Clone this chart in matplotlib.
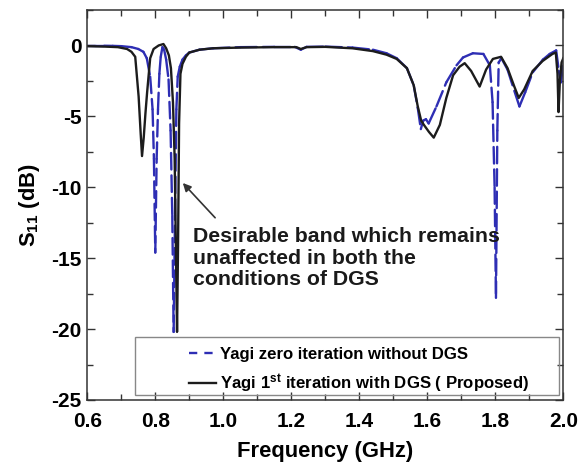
import numpy as np
import matplotlib
matplotlib.use("Agg")
import matplotlib.pyplot as plt
from matplotlib.patches import Rectangle
from matplotlib.collections import LineCollection
from matplotlib.lines import Line2D
from matplotlib.ticker import MultipleLocator

# Yagi zero iteration without DGS (blue dashed)
freq_zero = [0.60, 0.625, 0.65, 0.675, 0.70, 0.73, 0.75, 0.765, 0.775, 0.785, 0.792, 0.796,
             0.800, 0.804, 0.808, 0.812, 0.816, 0.821, 0.826, 0.832, 0.839, 0.845,
             0.850, 0.854, 0.858, 0.862, 0.866, 0.872, 0.880, 0.890, 0.900, 0.930,
             0.970, 1.050, 1.150, 1.210, 1.228, 1.245, 1.300, 1.380, 1.440, 1.480,
             1.510, 1.540, 1.560, 1.572, 1.581, 1.588, 1.596, 1.604, 1.627, 1.656,
             1.686, 1.705, 1.734, 1.765, 1.784, 1.792, 1.798, 1.802, 1.806, 1.810,
             1.818, 1.836, 1.856, 1.871, 1.888, 1.910, 1.940, 1.960, 1.979, 1.987,
             1.993, 2.000]
s11_zero = [-0.02, -0.02, -0.02, -0.03, -0.05, -0.12, -0.25, -0.45, -0.9, -2.2, -4.5, -8.0,
            -14.6, -8.0, -4.5, -2.0, -0.8, -0.12, -0.3, -1.0, -2.4, -6.0,
            -12.0, -20.2, -12.0, -4.5, -2.2, -1.5, -1.0, -0.7, -0.5, -0.3,
            -0.2, -0.12, -0.1, -0.1, -0.3, -0.1, -0.08, -0.15, -0.3, -0.55,
            -0.9, -1.6, -2.8, -4.4, -5.9, -5.3, -5.2, -5.5, -4.3, -2.6,
            -1.4, -0.85, -0.55, -0.6, -1.4, -4.0, -10.0, -17.8, -6.0, -1.2,
            -0.9, -1.7, -3.2, -4.3, -3.3, -1.9, -1.0, -0.6, -0.35, -1.8,
            -2.6, -1.3]

# Yagi 1st iteration with DGS (black solid)
freq_dgs = [0.60, 0.65, 0.69, 0.717, 0.730, 0.741, 0.751, 0.757, 0.761, 0.766,
            0.771, 0.776, 0.785, 0.795, 0.810, 0.824, 0.832, 0.840, 0.846, 0.852,
            0.857, 0.861, 0.864, 0.867, 0.870, 0.874, 0.880, 0.890, 0.900, 0.930,
            0.970, 1.050, 1.150, 1.215, 1.228, 1.245, 1.300, 1.380, 1.440, 1.480,
            1.510, 1.540, 1.560, 1.572, 1.582, 1.590, 1.605, 1.619, 1.637, 1.656,
            1.676, 1.695, 1.710, 1.729, 1.754, 1.773, 1.793, 1.817, 1.836, 1.856,
            1.869, 1.885, 1.910, 1.939, 1.968, 1.978, 1.983, 1.986, 1.990, 1.995,
            2.000]
s11_dgs = [-0.05, -0.08, -0.12, -0.25, -0.45, -0.8, -3.6, -6.2, -7.8, -6.5,
           -4.8, -3.3, -0.9, -0.25, 0.0, 0.1, -0.2, -0.7, -1.6, -4.0,
           -8.0, -15.0, -20.2, -14.0, -5.5, -2.0, -1.3, -0.8, -0.5, -0.3,
           -0.2, -0.15, -0.12, -0.12, -0.25, -0.12, -0.1, -0.2, -0.4, -0.65,
           -0.95, -1.6, -2.8, -4.3, -5.3, -5.6, -6.1, -6.5, -5.6, -3.7,
           -2.1, -1.5, -1.25, -1.8, -2.9, -1.7, -0.95, -0.8, -1.6, -2.9,
           -3.7, -3.1, -1.8, -1.1, -0.6, -0.5, -2.0, -4.7, -2.5, -1.2,
           -0.9]

labels = ["Yagi zero iteration without DGS",
          "Yagi 1$^{\\mathbf{st}}$ iteration with DGS ( Proposed)"]
note = "Desirable band which remains\nunaffected in both the\nconditions of DGS"

BLUE = '#2e2eb4'
BLACK = '#1c1c1c'

plt.rcParams['font.family'] = 'Liberation Sans'
plt.rcParams['font.weight'] = 'bold'
plt.rcParams['axes.unicode_minus'] = False
plt.rcParams['mathtext.fontset'] = 'custom'
plt.rcParams['mathtext.rm'] = 'Liberation Sans:bold'
plt.rcParams['mathtext.it'] = 'Liberation Sans:bold'
plt.rcParams['mathtext.bf'] = 'Liberation Sans:bold'

fig = plt.figure(figsize=(5.87, 4.67), dpi=100)
ax = fig.add_axes([0.1487, 0.1435, 0.8109, 0.8351])

# dash pattern restarts on every segment, like the original plotting software
pts = np.column_stack([freq_zero, s11_zero])
segs = np.stack([pts[:-1], pts[1:]], axis=1)
lc = LineCollection(segs, colors=BLUE, linewidths=1.7, linestyles=[(0, (7, 2.5))],
                    capstyle='round', joinstyle='round')
ax.add_collection(lc)
ax.plot(freq_dgs, s11_dgs, color=BLACK, lw=1.7)

ax.set_xlim(0.6, 2.0)
ax.set_ylim(-25, 2.5)
ax.xaxis.set_major_locator(MultipleLocator(0.2))
ax.xaxis.set_minor_locator(MultipleLocator(0.1))
ax.yaxis.set_major_locator(MultipleLocator(5))
ax.yaxis.set_minor_locator(MultipleLocator(2.5))
ax.tick_params(which='both', direction='in', top=True, right=True,
               color='#333333', width=1.0, labelsize=15)
ax.tick_params(which='major', length=6)
ax.tick_params(which='minor', length=4)
ax.tick_params(axis='x', pad=9)
ax.tick_params(axis='y', pad=4)
for sp in ax.spines.values():
    sp.set_color('#333333')
    sp.set_linewidth(1.1)

ax.set_xlabel('Frequency (GHz)', fontsize=15.8, fontweight='bold', labelpad=7)
ax.set_ylabel('S$_{11}$ (dB)', fontsize=15.8, fontweight='bold', labelpad=7)

ax.annotate('', xy=(0.881, -9.7), xytext=(0.976, -12.15),
            arrowprops=dict(arrowstyle='-|>', color='#333333', lw=1.2,
                            mutation_scale=12, shrinkA=0, shrinkB=0))
ax.text(0.911, -12.8, note, fontsize=15.3, fontweight='bold', va='top', ha='left',
        linespacing=1.18, color='#1a1a1a')

# legend box as drawn in the original
ax.add_patch(Rectangle((0.100, 0.013), 0.892, 0.149, transform=ax.transAxes,
                       fill=False, edgecolor='#888888', lw=1.0, zorder=3))
handles = [Line2D([], [], color=BLUE, lw=1.7, dashes=(3.5, 3)),
           Line2D([], [], color=BLACK, lw=1.7)]
ax.legend(handles, labels, loc='upper left', bbox_to_anchor=(0.2136, 0.136),
          frameon=False, borderpad=0, borderaxespad=0, handlelength=1.6,
          handletextpad=0.25, labelspacing=0.6,
          prop={'weight': 'bold', 'size': 12.1})

fig.savefig('out.png', dpi=100)
